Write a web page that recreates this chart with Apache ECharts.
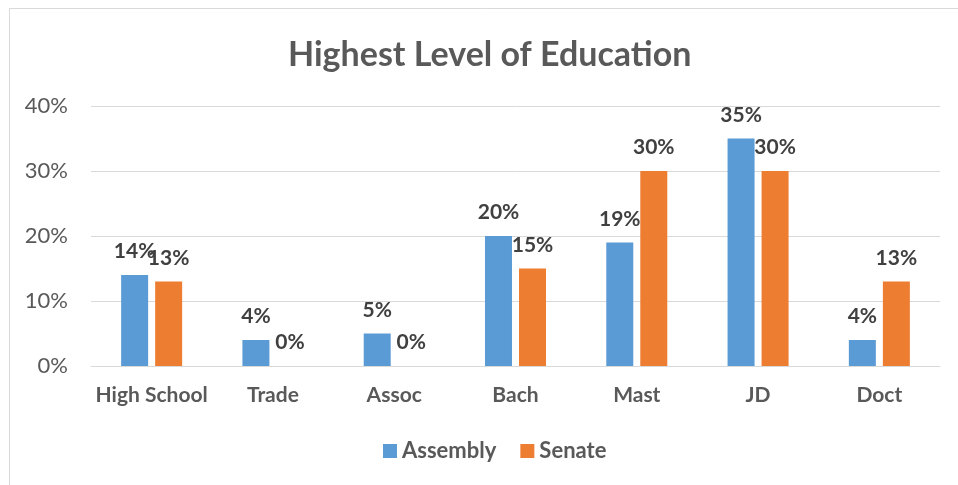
<!DOCTYPE html>
<html>
<head>
<meta charset="utf-8">
<script src="https://cdn.jsdelivr.net/npm/echarts@6/dist/echarts.min.js"></script>
<style>
html,body{margin:0;padding:0;background:#fff;}
#chart{width:958px;height:485px;}
</style>
</head>
<body>
<div id="chart"></div>
<script>
const categories = ['High School', 'Trade', 'Assoc', 'Bach', 'Mast', 'JD', 'Doct'];
const assembly = [14, 4, 5, 20, 19, 35, 4];
const senate = [13, 0, 0, 15, 30, 30, 13];
const seriesNames = ['Assembly', 'Senate'];
const titleText = 'Highest Level of Education';

const FONT = 'Lato, "Open Sans", sans-serif';
const chart = echarts.init(document.getElementById('chart'));
const labelStyle = {
  show: true,
  position: 'top',
  distance: 13,
  formatter: p => p.value + '%',
  color: '#404040',
  fontWeight: 'bold',
  fontSize: 21,
  fontFamily: FONT
};
chart.setOption({
  backgroundColor: '#fff',
  animation: false,
  graphic: [{
    type: 'rect',
    shape: { x: 9.5, y: 8.5, width: 1000, height: 600 },
    style: { fill: 'none', stroke: '#d9d9d9', lineWidth: 1 },
    silent: true
  }],
  title: {
    text: titleText,
    left: 283,
    top: 33,
    textStyle: { color: '#595959', fontSize: 34, fontWeight: 'bold', fontFamily: FONT }
  },
  legend: {
    data: seriesNames,
    bottom: 18,
    left: 378,
    itemWidth: 14,
    itemHeight: 14,
    itemGap: 24,
    icon: 'rect',
    textStyle: { color: '#595959', fontSize: 22, fontWeight: 'bold', fontFamily: FONT }
  },
  grid: { left: 91, right: 18, top: 106, bottom: 119, containLabel: false },
  xAxis: {
    type: 'category',
    data: categories,
    axisLine: { lineStyle: { color: '#d9d9d9', width: 1 } },
    axisTick: { show: false },
    axisLabel: { interval: 0, color: '#595959', fontSize: 21, fontWeight: 'bold', fontFamily: FONT, margin: 19 }
  },
  yAxis: {
    type: 'value',
    min: 0,
    max: 40,
    interval: 10,
    axisLine: { show: false },
    axisTick: { show: false },
    splitLine: { lineStyle: { color: '#d9d9d9', width: 1 } },
    axisLabel: { color: '#595959', fontSize: 22, fontFamily: FONT, margin: 23, formatter: v => v + '%' }
  },
  series: [
    { name: seriesNames[0], type: 'bar', data: assembly, barWidth: 27, barGap: '26%',
      itemStyle: { color: '#5B9BD5' }, label: labelStyle },
    { name: seriesNames[1], type: 'bar', data: senate, barWidth: 27,
      itemStyle: { color: '#ED7D31' }, label: labelStyle }
  ]
});
</script>
</body>
</html>
